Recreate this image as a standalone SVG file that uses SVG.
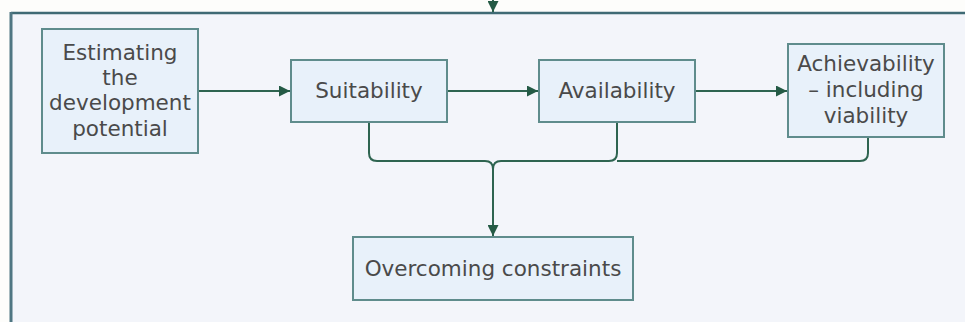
<svg xmlns="http://www.w3.org/2000/svg" width="965" height="322" viewBox="0 0 965 322">
<style>
.box{fill:#e8f1fa;stroke:#5f8c8c;stroke-width:2}
.t{font-family:"DejaVu Sans",Verdana,sans-serif;font-size:21.5px;fill:#4a4a4a;text-anchor:middle}
.c{fill:none;stroke:#2e6450;stroke-width:2}
</style>
<defs>
<marker id="ah" viewBox="0 0 10 10" refX="10" refY="5" markerWidth="6.5" markerHeight="5.5" orient="auto" markerUnits="strokeWidth">
<path d="M0,0 L10,5 L0,10 z" fill="#245a45"/>
</marker>
</defs>
<rect x="0" y="0" width="965" height="322" fill="#fdfdfb"/>
<rect x="11" y="13" width="954" height="309" fill="#f3f5fa"/>
<g id="frame">
<line x1="11" y1="13" x2="965" y2="13" stroke="#3f6a74" stroke-width="2.5"/>
<line x1="11" y1="12" x2="11" y2="322" stroke="#4f7682" stroke-width="3"/>
</g>
<g id="connectors">
<line class="c" x1="493" y1="0" x2="493" y2="12" marker-end="url(#ah)"/>
<line class="c" x1="198" y1="91" x2="290" y2="91" marker-end="url(#ah)"/>
<line class="c" x1="447" y1="91" x2="538" y2="91" marker-end="url(#ah)"/>
<line class="c" x1="695" y1="91" x2="787" y2="91" marker-end="url(#ah)"/>
<path class="c" d="M369,122 V153 Q369,161 377,161 H485 Q493,161 493,169"/>
<path class="c" d="M617,122 V153 Q617,161 609,161 H501 Q493,161 493,169"/>
<path class="c" d="M868,137 V153 Q868,161 860,161 H617"/>
<line class="c" x1="493" y1="169" x2="493" y2="236" marker-end="url(#ah)"/>
</g>
<g id="estimating">
<rect class="box" x="42" y="29" width="156" height="124"/>
<text class="t" x="120" y="60">Estimating</text>
<text class="t" x="120" y="85">the</text>
<text class="t" x="120" y="110">development</text>
<text class="t" x="120" y="136">potential</text>
</g>
<g id="suitability">
<rect class="box" x="291" y="60" width="156" height="62"/>
<text class="t" x="369" y="98">Suitability</text>
</g>
<g id="availability">
<rect class="box" x="539" y="60" width="156" height="62"/>
<text class="t" x="617" y="98">Availability</text>
</g>
<g id="achievability">
<rect class="box" x="788" y="44" width="156" height="93"/>
<text class="t" x="866" y="71">Achievability</text>
<text class="t" x="866" y="97">– including</text>
<text class="t" x="866" y="123">viability</text>
</g>
<g id="overcoming">
<rect class="box" x="353" y="237" width="280" height="63"/>
<text class="t" x="493" y="276">Overcoming constraints</text>
</g>
</svg>
